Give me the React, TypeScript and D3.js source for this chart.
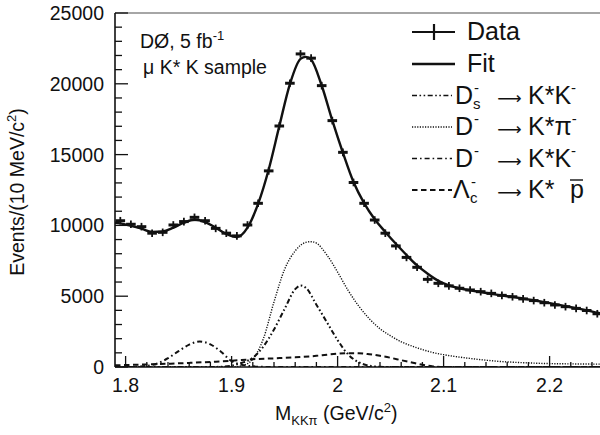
import React, { useEffect } from "react";
import * as d3 from "d3";

// ---------- data ----------
const dataX = [
  1.795, 1.805, 1.815, 1.825, 1.835, 1.845, 1.855, 1.865, 1.875, 1.885,
  1.895, 1.905, 1.915, 1.925, 1.935, 1.945, 1.955, 1.965, 1.975, 1.985,
  1.995, 2.005, 2.015, 2.025, 2.035, 2.045, 2.055, 2.065, 2.075, 2.085,
  2.095, 2.105, 2.115, 2.125, 2.135, 2.145, 2.155, 2.165, 2.175, 2.185,
  2.195, 2.205, 2.215, 2.225, 2.235, 2.245,
];
const dataY = [
  10330, 10080, 9910, 9450, 9510, 10030, 10270, 10570, 10330, 9790,
  9450, 9260, 10030, 11560, 13850, 17020, 20040, 22110, 21810, 19870,
  17400, 15160, 13030, 11560, 10380, 9450, 8550, 7740, 7040, 6190,
  5910, 5730, 5560, 5440, 5320, 5200, 5060, 4960, 4810, 4690,
  4540, 4380, 4260, 4140, 3990, 3760,
];

const fitX = [
  1.79, 1.795, 1.805, 1.815, 1.825, 1.835, 1.845, 1.855, 1.865, 1.875,
  1.885, 1.895, 1.905, 1.915, 1.925, 1.935, 1.945, 1.955, 1.965, 1.97,
  1.975, 1.985, 1.995, 2.005, 2.015, 2.025, 2.035, 2.045, 2.055, 2.065,
  2.075, 2.085, 2.095, 2.105, 2.115, 2.125, 2.135, 2.145, 2.155, 2.165,
  2.175, 2.185, 2.195, 2.205, 2.215, 2.225, 2.235, 2.245, 2.25,
];
const fitY = [
  10190, 10140, 9970, 9770, 9540, 9570, 9840, 10190, 10400, 10240,
  9840, 9400, 9180, 9840, 11520, 13950, 17010, 19980, 21760, 21900,
  21710, 19880, 17410, 15130, 13060, 11570, 10430, 9540, 8700, 7910,
  7170, 6580, 6080, 5760, 5560, 5410, 5290, 5170, 5050, 4950,
  4830, 4710, 4580, 4440, 4300, 4150, 4000, 3830, 3750,
];

// Ds- -> K*K- (dash-dot-dot)
const dsX = [1.79, 1.88, 1.89, 1.9, 1.91, 1.92, 1.93, 1.94, 1.95, 1.96, 1.965, 1.97, 1.98, 1.99, 2.0, 2.01, 2.02, 2.03, 2.04, 2.05, 2.25];
const dsY = [0, 0, 20, 100, 300, 650, 1450, 2650, 4100, 5500, 5750, 5600, 4400, 3150, 1900, 880, 330, 90, 15, 0, 0];

// D- -> K*pi- (dotted)
const dpiX = [1.79, 1.9, 1.91, 1.92, 1.93, 1.94, 1.95, 1.96, 1.97, 1.975, 1.98, 1.99, 2.0, 2.01, 2.02, 2.03, 2.04, 2.05, 2.06, 2.07, 2.08, 2.09, 2.1, 2.11, 2.12, 2.13, 2.14, 2.15, 2.16, 2.17, 2.18, 2.19, 2.2, 2.22, 2.25];
const dpiY = [0, 0, 100, 550, 2000, 4600, 6900, 8200, 8800, 8850, 8750, 7900, 6700, 5400, 4300, 3400, 2700, 2200, 1780, 1480, 1230, 1020, 870, 750, 650, 560, 480, 410, 360, 320, 290, 260, 240, 220, 200];

// D- -> K*K- (dash-dot)
const dkX = [1.79, 1.8, 1.81, 1.82, 1.83, 1.84, 1.85, 1.86, 1.87, 1.88, 1.89, 1.9, 1.91, 1.92, 1.93, 1.94, 2.25];
const dkY = [0, 0, 20, 80, 250, 620, 1120, 1580, 1800, 1600, 1080, 420, 150, 50, 10, 0, 0];

// Lambda_c- -> K* pbar (dashed)
const lcX = [1.79, 1.8, 1.82, 1.84, 1.86, 1.88, 1.9, 1.92, 1.94, 1.96, 1.98, 1.99, 2.0, 2.01, 2.02, 2.03, 2.04, 2.05, 2.06, 2.07, 2.08, 2.09, 2.1, 2.25];
const lcY = [120, 140, 180, 230, 290, 360, 440, 550, 610, 680, 790, 870, 940, 975, 970, 900, 790, 650, 480, 320, 160, 40, 0, 0];

const yTicks = [0, 5000, 10000, 15000, 20000, 25000];
const yTickLabels = ["0", "5000", "10000", "15000", "20000", "25000"];
const xTicks = [1.8, 1.9, 2.0, 2.1, 2.2];
const xTickLabels = ["1.8", "1.9", "2", "2.1", "2.2"];

// ---------- layout ----------
const W = 600;
const H = 435;
const L = 115;
const T = 13;
const B = 367;
const R = 600;
const FONT = "'Liberation Sans', Arial, Helvetica, sans-serif";

const x = d3.scaleLinear().domain([1.79, 2.25]).range([L, L + 0.46 * 1060]);
const y = d3.scaleLinear().domain([0, 25000]).range([B, T]);

const lineGen = (xs: number[], ys: number[]) =>
  d3
    .line<number>()
    .x((_, i) => x(xs[i]))
    .y((d) => y(d))
    .curve(d3.curveMonotoneX)(ys) || "";

const STYLES = {
  fit: { dash: "none", w: 2.4 },
  ds: { dash: "5,2.5,1.6,2.5,1.6,2.5", w: 2 },
  dpi: { dash: "1.2,1.4", w: 1.4 },
  dk: { dash: "5,3,1.6,3", w: 2 },
  lc: { dash: "5.5,3.5", w: 2 },
};

function Arrow({ y0 }: { y0: number }) {
  return (
    <text x={509.5} y={y0} textAnchor="middle" fontSize={17} fontFamily="'DejaVu Sans', sans-serif" fill="#111">
      ⟶
    </text>
  );
}

export default function App() {
  useEffect(() => {
    document.body.style.margin = "0";
  }, []);

  const yMinor = d3.range(0, 25001, 1000).filter((v) => v % 5000 !== 0);
  const xMinor = d3
    .range(0, 23)
    .map((i) => 1.8 + i * 0.02)
    .filter((v) => Math.abs(v * 10 - Math.round(v * 10)) > 1e-6 && v < 2.25);

  const rows = [40, 72, 103.5, 135, 166.5, 198];
  const sx0 = 412;
  const sx1 = 455;
  const LF = 25; // legend font size
  const SF = 15; // script size

  return (
    <svg
      width={W}
      height={H}
      style={{ display: "block", position: "absolute", left: 0, top: 0, background: "#fff" }}
      fontFamily={FONT}
    >
      <defs>
        <clipPath id="plot">
          <rect x={L} y={T - 10} width={R - L} height={B - T + 10} />
        </clipPath>
      </defs>

      {/* components */}
      <g clipPath="url(#plot)" fill="none" stroke="#111">
        <path d={lineGen(lcX, lcY)} strokeWidth={STYLES.lc.w} strokeDasharray={STYLES.lc.dash} />
        <path d={lineGen(dkX, dkY)} strokeWidth={STYLES.dk.w} strokeDasharray={STYLES.dk.dash} />
        <path d={lineGen(dsX, dsY)} strokeWidth={STYLES.ds.w} strokeDasharray={STYLES.ds.dash} />
        <path d={lineGen(dpiX, dpiY)} strokeWidth={STYLES.dpi.w} strokeDasharray={STYLES.dpi.dash} />
        <path d={lineGen(fitX, fitY)} strokeWidth={STYLES.fit.w} />
      </g>

      {/* data points */}
      <g stroke="#111" clipPath="url(#plot)">
        {dataX.map((xv, i) => {
          const cx = x(xv);
          const cy = y(dataY[i]);
          return (
            <g key={i}>
              <line x1={cx - 4.8} x2={cx + 4.8} y1={cy} y2={cy} strokeWidth={3} />
              <line x1={cx} x2={cx} y1={cy - 3.8} y2={cy + 3.8} strokeWidth={1.8} />
            </g>
          );
        })}
      </g>

      {/* frame */}
      <line x1={L} x2={R} y1={T} y2={T} stroke="#888" strokeWidth={1.5} />
      <line x1={L} x2={L} y1={T} y2={B} stroke="#111" strokeWidth={1.6} />
      <line x1={L} x2={R} y1={B} y2={B} stroke="#111" strokeWidth={1.6} />

      {/* y ticks */}
      <g stroke="#111" strokeWidth={1.3}>
        {yTicks.map((v) => (
          <line key={v} x1={L} x2={L + 13} y1={y(v)} y2={y(v)} />
        ))}
        {yMinor.map((v) => (
          <line key={v} x1={L} x2={L + 7} y1={y(v)} y2={y(v)} />
        ))}
      </g>
      <g fontSize={19.5} fill="#111" textAnchor="end">
        {yTicks.map((v, i) => (
          <text key={v} x={104} y={y(v) + 7}>
            {yTickLabels[i]}
          </text>
        ))}
      </g>

      {/* x ticks */}
      <g stroke="#111" strokeWidth={1.3}>
        {xTicks.map((v) => (
          <line key={v} x1={x(v)} x2={x(v)} y1={B} y2={B - 11} />
        ))}
        {xMinor.map((v) => (
          <line key={v} x1={x(v)} x2={x(v)} y1={B} y2={B - 5} />
        ))}
      </g>
      <g fontSize={19.5} fill="#111" textAnchor="middle">
        {xTicks.map((v, i) => (
          <text key={v} x={x(v)} y={392}>
            {xTickLabels[i]}
          </text>
        ))}
      </g>

      {/* axis titles */}
      <text transform="translate(24,192) rotate(-90)" textAnchor="middle" fontSize={19.5} fill="#111">
        Events/(10 MeV/c<tspan fontSize={13} dy={-8}>2</tspan>
        <tspan dy={8}>)</tspan>
      </text>
      <text x={275} y={420} fontSize={19.5} fill="#111">
        M<tspan fontSize={13} dy={5}>KKπ</tspan>
        <tspan dy={-5}> (GeV/c</tspan>
        <tspan fontSize={13} dy={-8}>2</tspan>
        <tspan dy={8}>)</tspan>
      </text>

      {/* annotation */}
      <text x={140} y={48} fontSize={19.5} fill="#111">
        DØ, 5 fb<tspan fontSize={13} dy={-8}>-1</tspan>
      </text>
      <text x={143} y={74} fontSize={19.5} fill="#111">
        μ K* K sample
      </text>

      {/* legend samples */}
      <g stroke="#111" fill="none">
        <line x1={sx0} x2={sx1} y1={rows[0] - 8} y2={rows[0] - 8} strokeWidth={2.2} />
        <line x1={434} x2={434} y1={rows[0] - 16} y2={rows[0]} strokeWidth={2.2} />
        <line x1={sx0} x2={sx1} y1={rows[1] - 8} y2={rows[1] - 8} strokeWidth={STYLES.fit.w} />
        <line x1={sx0} x2={sx1 - 3} y1={rows[2] - 8} y2={rows[2] - 8} strokeWidth={1.6} strokeDasharray={STYLES.ds.dash} />
        <line x1={sx0} x2={sx1 - 3} y1={rows[3] - 8} y2={rows[3] - 8} strokeWidth={1.4} strokeDasharray={STYLES.dpi.dash} />
        <line x1={sx0} x2={sx1 - 3} y1={rows[4] - 8} y2={rows[4] - 8} strokeWidth={1.6} strokeDasharray={STYLES.dk.dash} />
        <line x1={sx0} x2={sx1 - 3} y1={rows[5] - 8} y2={rows[5] - 8} strokeWidth={1.8} strokeDasharray={STYLES.lc.dash} />
      </g>

      {/* legend texts */}
      <g fontSize={LF} fill="#111">
        <text x={467} y={rows[0]}>Data</text>
        <text x={467} y={rows[1]}>Fit</text>

        <text x={455} y={rows[2]}>D</text>
        <text x={474} y={rows[2] - 11} fontSize={SF}>-</text>
        <text x={473} y={rows[2] + 5} fontSize={SF}>s</text>
        <Arrow y0={rows[2]} />
        <text x={528} y={rows[2]}>
          K*K<tspan fontSize={SF} dy={-11}>-</tspan>
        </text>

        <text x={455} y={rows[3]}>D</text>
        <text x={474} y={rows[3] - 11} fontSize={SF}>-</text>
        <Arrow y0={rows[3]} />
        <text x={528} y={rows[3]}>
          K*π<tspan fontSize={SF} dy={-11}>-</tspan>
        </text>

        <text x={455} y={rows[4]}>D</text>
        <text x={474} y={rows[4] - 11} fontSize={SF}>-</text>
        <Arrow y0={rows[4]} />
        <text x={528} y={rows[4]}>
          K*K<tspan fontSize={SF} dy={-11}>-</tspan>
        </text>

        <text x={453} y={rows[5]}>Λ</text>
        <text x={471} y={rows[5] - 11} fontSize={SF}>-</text>
        <text x={470} y={rows[5] + 5} fontSize={SF}>c</text>
        <Arrow y0={rows[5]} />
        <text x={528} y={rows[5]}>K*</text>
        <text x={570} y={rows[5]}>p</text>
      </g>
      <line x1={570} x2={583} y1={rows[5] - 18} y2={rows[5] - 18} stroke="#111" strokeWidth={1.4} />
    </svg>
  );
}
